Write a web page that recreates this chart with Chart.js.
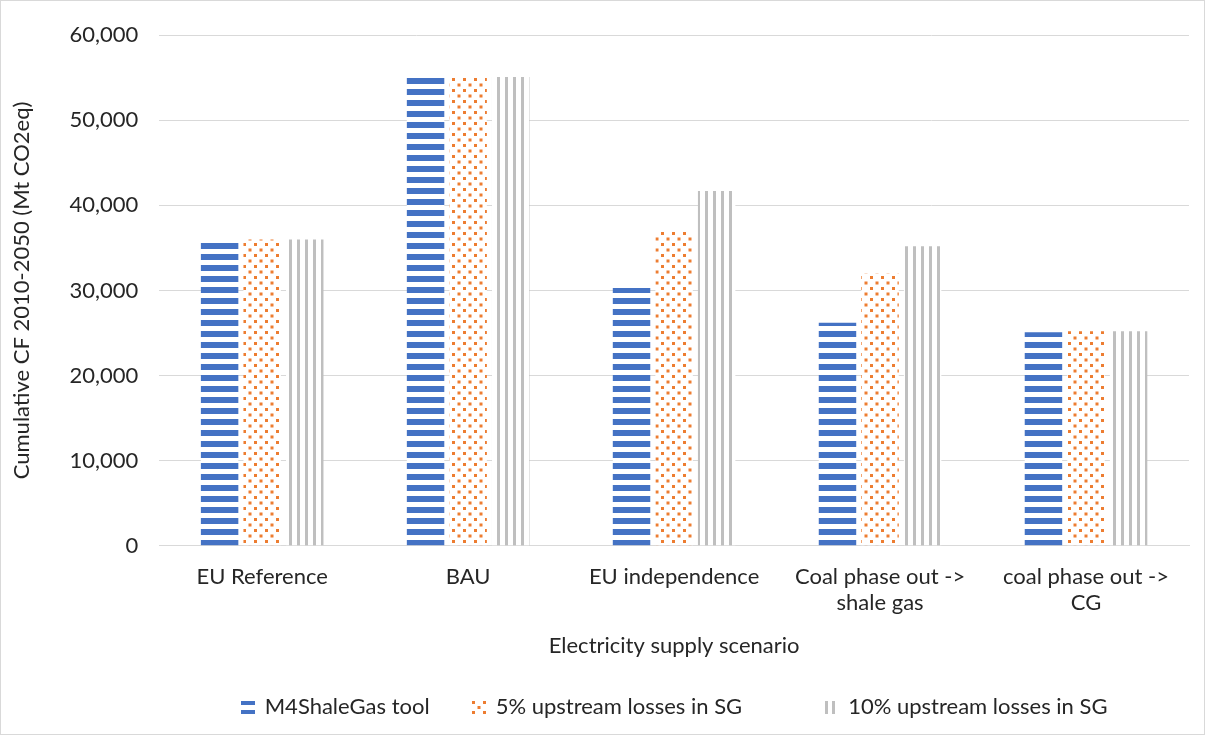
<!DOCTYPE html>
<html>
<head>
<meta charset="utf-8">
<script src="https://cdn.jsdelivr.net/npm/chart.js@4.4.1/dist/chart.umd.min.js"></script>
<style>
  html, body { margin: 0; padding: 0; background: #ffffff; }
  #wrap { position: relative; width: 1203px; height: 733px; border: 1px solid #d9d9d9; }
  canvas { display: block; }
</style>
</head>
<body>
<div id="wrap"><canvas id="chart" width="1203" height="733"></canvas></div>
<script>
// Cumulative carbon footprint 2010-2050 per electricity supply scenario (Mt CO2eq)
const scenarios = [
  'EU Reference',
  'BAU',
  'EU independence',
  ['Coal phase out ->', 'shale gas'],
  ['coal phase out ->', 'CG']
];
const m4ShaleGasTool = [35600, 55000, 30300, 26200, 25100];
const upstreamLoss5 = [36000, 55100, 37100, 32000, 25200];
const upstreamLoss10 = [36000, 55100, 41700, 35200, 25200];
const yTicks = [0, 10000, 20000, 30000, 40000, 50000, 60000];

const FONT = 'Lato, "Open Sans", sans-serif';
const TEXT = '#262626';
const BLUE = '#4472c4', ORANGE = '#ed7d31', GREY = '#bfbfbf';

// Fill patterns: horizontal stripes, staggered dots, vertical stripes
function makePattern(w, h, draw) {
  const c = document.createElement('canvas');
  c.width = w; c.height = h;
  const g = c.getContext('2d');
  g.fillStyle = '#ffffff';
  g.fillRect(0, 0, w, h);
  draw(g);
  return document.getElementById('chart').getContext('2d').createPattern(c, 'repeat');
}
const stripesH = makePattern(4, 11, g => { g.fillStyle = BLUE; g.fillRect(0, 0, 4, 6); });
const dots = makePattern(11, 11, g => {
  g.fillStyle = ORANGE;
  g.fillRect(0, 0, 3, 3);
  g.fillRect(5.5, 5.5, 3, 3);
});
const stripesV = makePattern(8, 4, g => { g.fillStyle = GREY; g.fillRect(0, 0, 3, 4); });

// Small legend swatches for each fill style
const swatches = [
  (ctx, x, y) => { ctx.fillStyle = BLUE; ctx.fillRect(x, y, 14, 4); ctx.fillRect(x, y + 9, 14, 4); },
  (ctx, x, y) => {
    ctx.fillStyle = ORANGE;
    [[0, 0], [11, 0], [5.5, 5], [0, 10], [11, 10]].forEach(([dx, dy]) => ctx.fillRect(x + dx, y + dy, 3, 3));
  },
  (ctx, x, y) => { ctx.fillStyle = GREY; ctx.fillRect(x + 1, y, 3, 13); ctx.fillRect(x + 8, y, 3, 13); }
];

// Legend row under the axis title, centred on the plot area
const bottomLegend = {
  id: 'bottomLegend',
  afterDraw(chart) {
    const ctx = chart.ctx;
    const area = chart.chartArea;
    const boxW = 14, boxGap = 10, itemGaps = [42, 82], cy = 706;
    ctx.save();
    ctx.font = `22px ${FONT}`;
    ctx.textBaseline = 'middle';
    ctx.textAlign = 'left';
    const items = chart.data.datasets.map((ds, i) => ({
      text: ds.label, swatch: swatches[i], w: boxW + boxGap + ctx.measureText(ds.label).width
    }));
    const total = items.reduce((s, it) => s + it.w, 0) + itemGaps.reduce((s, g) => s + g, 0);
    let x = (area.left + area.right) / 2 - total / 2;
    items.forEach((it, i) => {
      it.swatch(ctx, Math.round(x), cy - 6);
      ctx.fillStyle = TEXT;
      ctx.fillText(it.text, x + boxW + boxGap, cy);
      x += it.w + (itemGaps[i] || 0);
    });
    ctx.restore();
  }
};

new Chart(document.getElementById('chart'), {
  type: 'bar',
  data: {
    labels: scenarios,
    datasets: [
      { label: 'M4ShaleGas tool', data: m4ShaleGasTool, backgroundColor: stripesH, borderWidth: 0 },
      { label: '5% upstream losses in SG', data: upstreamLoss5, backgroundColor: dots, borderWidth: 0 },
      { label: '10% upstream losses in SG', data: upstreamLoss10, backgroundColor: stripesV, borderWidth: 0 }
    ]
  },
  options: {
    responsive: false,
    devicePixelRatio: 1,
    animation: false,
    layout: { padding: { top: 22, right: 15, left: 4, bottom: 71 } },
    datasets: { bar: { categoryPercentage: 0.62, barPercentage: 0.88 } },
    scales: {
      x: {
        grid: { display: false },
        border: { color: '#d9d9d9', width: 1 },
        ticks: { color: TEXT, font: { family: FONT, size: 22 }, padding: 10, maxRotation: 0, autoSkip: false },
        title: { display: true, text: 'Electricity supply scenario', color: TEXT, font: { family: FONT, size: 22 }, padding: { top: 6 } }
      },
      y: {
        min: 0, max: 60000,
        afterBuildTicks: axis => { axis.ticks = yTicks.map(v => ({ value: v })); },
        grid: { color: '#d9d9d9', lineWidth: 1, drawTicks: false },
        border: { display: false },
        ticks: {
          color: TEXT, font: { family: FONT, size: 22 }, padding: 21,
          callback: v => v.toLocaleString('en-US')
        },
        title: { display: true, text: 'Cumulative CF 2010-2050 (Mt CO2eq)', color: TEXT, font: { family: FONT, size: 22 }, padding: { bottom: 13 } }
      }
    },
    plugins: {
      legend: { display: false },
      tooltip: { enabled: false }
    }
  },
  plugins: [bottomLegend]
});
</script>
</body>
</html>
